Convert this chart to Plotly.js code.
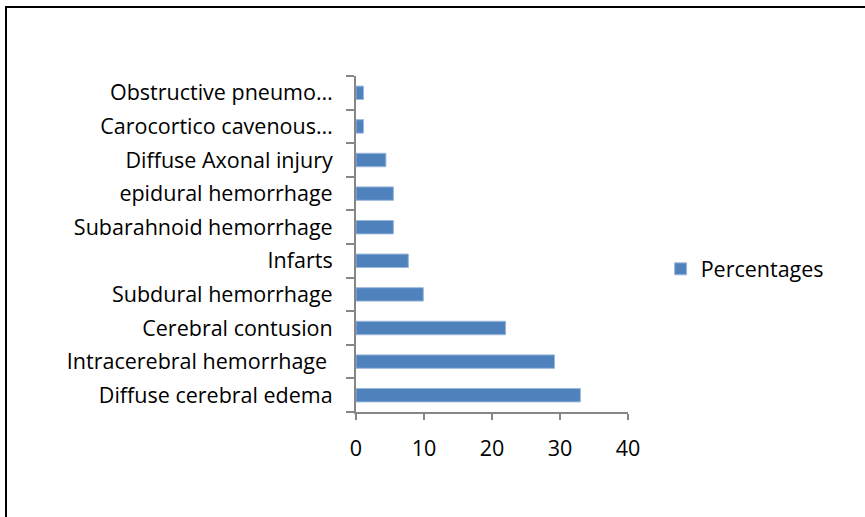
<!DOCTYPE html>
<html><head><meta charset="utf-8">
<script src="https://cdn.plot.ly/plotly-3.0.1.min.js"></script>
<style>
html,body{margin:0;padding:0;background:#fff;}
#frame{position:absolute;left:5px;top:6px;width:900px;height:560px;border-left:2px solid #000;border-top:2px solid #000;}
#chart{position:absolute;left:0;top:0;width:865px;height:517px;}
</style></head>
<body>
<div id="frame"></div>
<div id="chart"></div>
<script>
const categories = [
  "Diffuse cerebral edema",
  "Intracerebral hemorrhage ",
  "Cerebral contusion",
  "Subdural hemorrhage",
  "Infarts",
  "Subarahnoid hemorrhage",
  "epidural hemorrhage",
  "Diffuse Axonal injury",
  "Carocortico cavenous…",
  "Obstructive pneumo…"
];
const percentages = [33, 29.2, 22, 9.9, 7.7, 5.5, 5.5, 4.4, 1.1, 1.1];
const xTicks = [0, 10, 20, 30, 40];
const seriesName = "Percentages";

const fontFam = "'Open Sans', sans-serif";
Plotly.newPlot('chart', [{
  type: 'bar',
  orientation: 'h',
  y: categories,
  x: percentages,
  name: seriesName,
  marker: {color: '#4F81BD', line: {color: '#9DB8DC', width: 1}},
  showlegend: true
}], {
  width: 865, height: 517,
  paper_bgcolor: 'rgba(0,0,0,0)', plot_bgcolor: 'rgba(0,0,0,0)',
  margin: {l: 356, r: 237, t: 76, b: 105},
  bargap: 0.6,
  font: {family: fontFam, size: 21.5, color: '#000'},
  xaxis: {
    range: [0, 40], tickvals: xTicks, ticktext: xTicks.map(String),
    showgrid: false, zeroline: false, showline: true, linecolor: '#868686', linewidth: 2,
    ticks: 'outside', ticklen: 6, tickwidth: 2, tickcolor: '#868686',
    ticklabelstandoff: 10, fixedrange: true
  },
  yaxis: {
    type: 'category', tickson: 'boundaries',
    showgrid: false, zeroline: false, showline: true, linecolor: '#868686', linewidth: 2,
    ticks: 'outside', ticklen: 8, tickwidth: 2, tickcolor: '#868686',
    ticklabelstandoff: 17, fixedrange: true
  },
  legend: {x: 1.12, xanchor: 'left', y: 0.426, yanchor: 'middle', font: {size: 21.5},
           itemwidth: 30, bgcolor: 'rgba(0,0,0,0)'},
  showlegend: true
}, {displayModeBar: false, staticPlot: true});
</script>
</body></html>
